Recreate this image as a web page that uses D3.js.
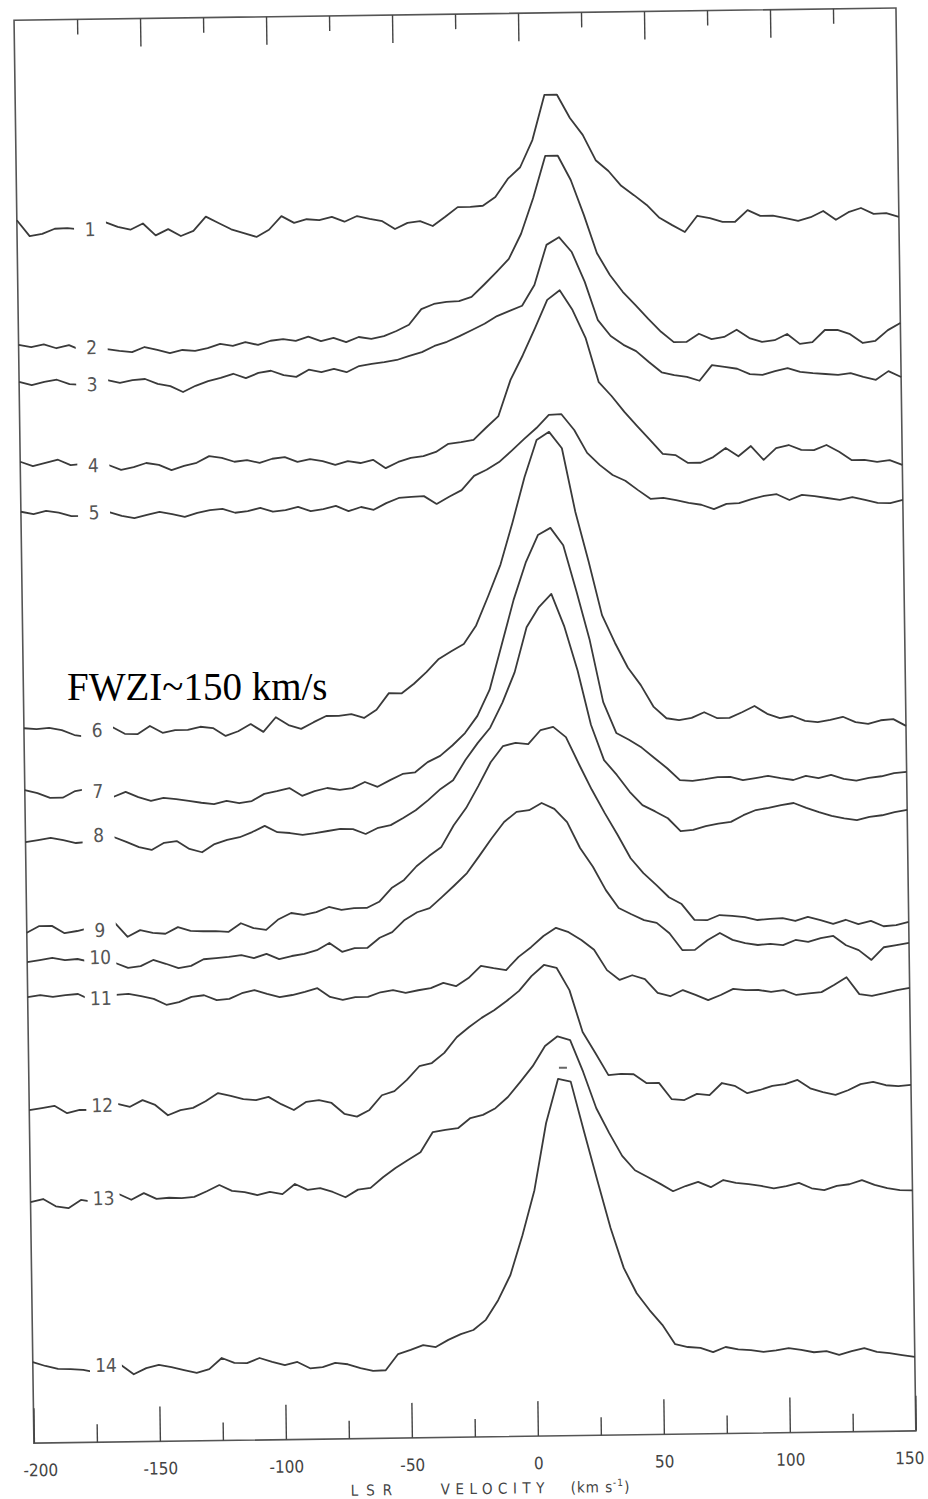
<!DOCTYPE html>
<html><head><meta charset="utf-8">
<script src="https://cdn.jsdelivr.net/npm/d3@7"></script>
<style>body{margin:0;background:#fff} svg{display:block}</style>
</head><body>
<svg id="chart" width="928" height="1499"></svg>
<script>
// LSR velocity grid (km/s)
const velocity = [-200,-195,-190,-185,-180,-175,-170,-165,-160,-155,-150,-145,-140,-135,-130,-125,-120,-115,-110,-105,-100,
  -95,-90,-85,-80,-75,-70,-65,-60,-55,-50,-45,-40,-35,-30,-25,-20,-15,-10,-5,0,
  5,10,15,20,25,30,35,40,45,50,55,60,65,70,75,80,85,90,95,100,105,110,115,120,125,130,135,140,145,150];

// spectra (brightness above each trace's baseline, arbitrary K units)
const s1 = [1.0,-0.6,-0.4,0.1,0.15,0,0.3,0.7,0.2,-0.1,0.5,-0.7,-0.1,-0.8,-0.3,1.1,0.45,-0.2,-0.6,-1.0,-0.3,
  1.05,0.35,0.7,0.6,0.9,0.4,0.95,0.65,0.4,-0.4,0.2,0.35,-0.15,0.75,1.7,1.7,1.8,2.65,4.45,5.6,
  8.3,12.8,12.8,10.45,8.75,6.2,5.1,3.6,2.65,1.65,0.35,-0.4,-1.1,0.5,0.25,-0.15,-0.15,1.0,0.4,0.4,
  0.15,-0.15,0.2,0.8,-0.1,0.65,1.05,0.45,0.5,0.1];
const s2 = [0.35,0.1,0.35,-0.05,0.25,-0.3,-0.3,-0.2,-0.4,-0.55,-0.05,-0.35,-0.7,-0.4,-0.5,-0.25,0.15,-0.05,0.3,0,0.4,
  0.55,0.35,0.75,0.3,0.6,0.15,0.65,0.45,0.7,1.2,1.8,3.35,3.85,4.05,4.1,4.5,5.7,6.95,8.25,10.75,
  14.3,18.5,18.5,16.05,12.55,8.7,6.5,4.8,3.45,2.05,0.75,-0.3,-0.3,0.5,-0.05,0.15,0.85,0,-0.4,-0.25,
  0.35,-0.65,-0.5,0.7,0.7,0.25,-0.65,-0.45,0.6,1.3];
const s3 = [0.35,0,0.3,0.5,0.05,-0.05,0.1,0.4,0.1,0.35,0.45,-0.05,-0.3,-0.9,-0.3,0.15,0.45,0.85,0.4,0.9,1.1,
  0.65,0.45,1.15,0.9,1.2,0.85,1.45,1.65,1.8,2.0,2.4,2.75,3.35,3.75,4.3,4.9,5.5,6.25,6.75,7.25,
  9.3,13.3,14.05,12.55,9.55,5.7,4.1,3.2,2.55,1.45,0.4,0.1,-0.1,-0.5,1.05,0.85,0.65,0.1,0,0.35,
  0.65,0.25,0.1,0,-0.1,0.05,-0.35,-0.65,0.2,-0.4];
const s4 = [0.45,0,0.3,0.6,0.05,0.15,0,0,-0.5,-0.25,0.15,-0.05,-0.6,-0.2,0.1,0.75,0.55,0.15,0.3,0,0.4,
  0.55,0.05,0.3,0.1,-0.3,0.05,-0.15,0.15,-0.7,-0.1,0.3,0.45,0.85,1.65,1.8,2.0,3.2,4.35,7.95,10.4,
  13.1,15.9,16.85,14.85,12.05,7.6,6.2,4.6,3.15,1.75,0.35,0.2,-0.6,-0.6,-0.05,0.85,0,1.0,-0.4,0.75,
  1.05,0.55,0.5,1.0,0.3,-0.55,-0.55,-0.75,-0.6,-1.1];
const s5 = [0.15,-0.1,0.2,0,-0.35,-0.35,-0.2,0,-0.4,-0.65,-0.35,-0.05,-0.3,-0.6,-0.2,0.05,0.15,-0.25,-0.1,0.2,-0.2,
  -0.05,0.25,-0.2,0,0.3,-0.25,0.15,-0.15,0.5,1.0,1.1,1.15,0.35,1.05,1.7,3.1,3.7,4.45,5.55,6.7,
  7.8,9.1,9.15,7.55,5.25,4.0,3.0,2.4,1.45,0.55,0.65,0.4,0.1,-0.1,-0.55,-0.05,0,0.4,0.7,0.85,
  0.25,0.75,0.6,0.4,0.2,0.45,0.15,-0.15,-0.2,0.1];
const s6 = [0.3,0.2,0.3,0.05,-0.45,-0.65,-0.5,0.3,-0.4,-0.45,0.35,-0.35,-0.1,-0.1,0.2,0.05,-0.75,-0.3,0.4,-0.4,1.05,
  0.25,-0.15,0.5,1.1,1.1,1.25,0.85,1.65,3.3,3.25,4.2,5.35,6.65,7.4,8.1,9.95,12.9,16.0,20.2,24.7,
  28.4,29.2,27.55,21.15,16.15,10.8,8.0,5.5,3.75,1.55,0.4,0.2,0.4,0.95,0.35,0.35,0.9,1.5,0.7,0.25,
  0.45,-0.05,-0.2,0,0.3,-0.25,-0.45,-0.1,0,-0.7];
const s7 = [0.2,-0.1,-0.6,-0.6,0.05,0.25,-0.1,-0.6,-0.1,-0.65,-1.05,-0.75,-0.9,-1.1,-1.3,-1.45,-1.15,-1.4,-1.2,-0.5,-0.25,
  0.05,-0.75,-0.3,0,-0.2,-0.05,0.55,0.05,0.7,1.3,1.45,2.45,3.05,4.1,5.3,7.0,9.6,14.05,18.55,22.25,
  25.0,25.7,23.95,19.3,14.4,8.2,5.1,4.4,3.6,2.55,1.5,0.3,0.2,0.35,0.55,0.55,0.2,0.4,0.6,0.35,
  0.15,0.55,0.3,0.6,0.2,0,0.25,0.4,0.7,0.8];
const s8 = [-0.6,-0.4,-0.2,-0.45,-0.75,-0.65,-0.5,-0.2,-0.7,-1.25,-1.55,-0.85,-0.7,-1.5,-1.85,-1.05,-0.65,-0.4,0.1,0.7,0.05,
  -0.05,-0.25,-0.1,0.1,0.3,0.25,-0.25,0.35,0.6,1.3,2.05,3.05,4.15,5.0,7.0,8.7,10.2,12.7,15.7,20.2,
  22.2,23.5,20.2,15.8,10.35,6.8,5.3,3.6,2.25,1.6,0.9,-0.4,-0.3,0.05,0.3,0.45,1.1,1.6,1.8,2.05,
  2.25,1.75,1.3,0.9,0.65,0.45,0.75,0.9,1.2,1.4];
const s9 = [-0.15,0.5,0.5,-0.25,-0.05,0.25,0.4,0.7,-0.7,-0.05,-0.35,-0.45,0.2,-0.2,-0.25,-0.25,-0.35,0.5,0,-0.2,0.85,
  1.45,1.25,1.5,2.0,1.7,1.85,1.85,2.45,3.8,4.6,5.95,6.95,7.85,10.0,11.7,13.9,16.25,17.85,18.15,18.0,
  19.4,19.7,18.65,15.95,13.35,11.0,8.8,6.45,4.95,3.75,2.5,1.8,0.2,0.15,0.65,0.55,0.4,0.1,0.2,0.25,
  -0.05,0.35,0,-0.4,0,-0.45,-0.15,-0.7,-0.6,-0.3];
const s10 = [-0.4,-0.2,0,-0.25,-0.15,-0.45,-0.7,-0.6,-1.1,-0.95,-0.35,-0.75,-1.2,-1.0,-0.35,-0.25,-0.15,0,-0.3,0.1,-0.45,
  -0.15,0.05,0.4,1.1,0.2,0.55,0.55,1.55,2.1,3.3,4.05,4.45,5.55,6.7,7.9,9.6,11.35,12.95,13.95,14.1,
  14.8,14.2,12.85,10.25,8.35,6.0,4.2,3.55,2.95,2.65,1.6,-0.1,-0.1,0.85,1.55,0.85,0.5,0.3,0.4,0.25,
  0.75,0.55,0.9,1.1,0.15,-0.35,-1.35,-0.1,0.1,0.3];
const s11 = [0.2,0.4,0.2,0.35,0.45,-0.15,0,0.3,0.4,0.15,-0.15,-0.75,-0.5,0,0.15,-0.35,-0.25,0.3,0.6,0.2,-0.15,
  0.05,0.35,0.7,-0.2,-0.5,-0.25,-0.25,0.2,0.4,0.1,0.35,0.55,1.05,0.7,1.5,2.7,2.45,2.25,3.55,4.5,
  5.6,6.4,5.95,5.15,4.15,2.1,1.1,1.55,1.15,-0.25,-0.6,0,-0.5,-1.05,-0.55,0.05,-0.1,-0.1,-0.3,-0.15,
  -0.65,-0.5,-0.4,0.3,1.05,-0.65,-0.85,-0.6,-0.3,-0.1];
const s12 = [-0.4,-0.2,0,-0.75,-0.45,-0.45,-0.1,0.1,-0.2,0.45,-0.05,-1.1,-0.6,-0.4,0.25,1.05,0.75,0.4,0.3,0.6,-0.15,
  -0.75,0.05,0.2,-0.1,-1.2,-1.5,-0.85,0.6,1.0,2.1,3.45,3.75,4.75,6.3,7.3,8.2,8.95,9.85,10.85,12.3,
  13.4,13.1,10.85,6.65,4.5,2.3,2.4,2.35,1.45,1.45,-0.2,-0.3,0.3,0.15,1.35,1.05,0.3,0.6,1.0,1.15,
  1.55,0.7,0.3,0,0.45,1.05,1.25,0.9,0.8,0.9];
const s13 = [-0.3,0,-0.75,-0.95,-0.15,-0.35,-0.2,0.4,-0.2,0.45,-0.15,-0.05,-0.1,0,0.55,1.15,0.55,0.4,0.1,0.4,0.15,
  1.15,0.55,0.7,0.3,-0.25,0.5,0.65,1.7,2.6,3.4,4.15,6.15,6.35,6.5,7.5,7.8,8.45,9.55,11.05,12.6,
  14.6,15.55,15.15,11.95,8.3,5.8,3.5,2.05,1.35,0.65,-0.1,0.4,0.8,0.25,0.95,0.65,0.5,0.3,0.05,0.25,
  0.55,0,-0.2,0.2,0.35,0.75,0.25,-0.1,-0.3,-0.35];
const s14 = [0.4,0,-0.3,-0.35,-0.45,-0.7,-0.5,0,-0.95,-0.35,-0.05,-0.3,-0.6,-0.9,-0.55,0.55,0.05,0,0.5,0.1,-0.25,
  0.05,-0.6,-0.5,-0.1,-0.25,-0.65,-0.95,-0.9,0.7,1.1,1.55,1.35,2.05,2.6,3.0,4.0,5.95,8.45,12.4,16.9,
  23.6,28.0,27.7,22.7,17.8,13.0,9.0,6.45,4.75,3.25,1.3,1.0,0.9,0.45,0.95,0.7,0.6,0.4,0.55,0.75,
  0.55,0.3,0.4,0,0.35,0.65,0.25,0.1,-0.1,-0.3];

const spectrumLabels = ["1","2","3","4","5","6","7","8","9","10","11","12","13","14"];
const offsets = [121.3,109.5,105.8,97.7,93.0,71.2,65.1,60.7,51.2,48.5,44.4,33.7,24.4,7.7];
const majorTicks = [-200,-150,-100,-50,0,50,100,150];
const majorTickLabels = ["-200","-150","-100","-50","0","50","100","150"];
const minorTicks = [-175,-125,-75,-25,25,75,125];
const annotation = "FWZI~150 km/s";
// small pen mark above the peak of trace 13/14 (velocity, level)
const penMark = [12, 36.8];

const series = [s1,s2,s3,s4,s5,s6,s7,s8,s9,s10,s11,s12,s13,s14];
const LABEL_V = -171;

const frame = {left:24, right:906, top:14, bottom:1437};
const x = d3.scaleLinear().domain([-200,150]).range([frame.left, frame.right]);
const y = d3.scaleLinear().domain([0,142.3]).range([frame.bottom, frame.top]);

const svg = d3.select("#chart");
const g = svg.append("g").attr("transform","rotate(-0.8,470,730)");

const ink = "#3a3a3a";
const tfont = "'DejaVu Sans Condensed','DejaVu Sans',sans-serif";

// frame
g.append("rect")
  .attr("x", frame.left).attr("y", frame.top)
  .attr("width", frame.right-frame.left).attr("height", frame.bottom-frame.top)
  .attr("fill","none").attr("stroke","#555").attr("stroke-width",1.6);

// axes
function styleAxis(sel){
  sel.select(".domain").remove();
  sel.selectAll(".tick line").attr("stroke","#444").attr("stroke-width",1.4);
  sel.selectAll("text").attr("fill","#444")
    .style("font-family", tfont)
    .style("font-size","17px");
}
const fmt = v => majorTickLabels[majorTicks.indexOf(v)];
const bottomAxis = g.append("g").attr("transform",`translate(0,${frame.bottom})`)
  .call(d3.axisBottom(x).tickValues(majorTicks).tickFormat(fmt).tickSizeInner(-35).tickSizeOuter(0).tickPadding(21))
  .call(styleAxis);
bottomAxis.selectAll(".tick text").attr("dx", d => d === 150 ? -7 : (d === -200 ? 6 : 0));
g.append("g").attr("transform",`translate(0,${frame.bottom})`)
  .call(d3.axisBottom(x).tickValues(minorTicks).tickFormat("").tickSizeInner(-18).tickSizeOuter(0))
  .call(styleAxis);
g.append("g").attr("transform",`translate(0,${frame.top})`)
  .call(d3.axisTop(x).tickValues(majorTicks.slice(1,-1)).tickFormat("").tickSizeInner(-28).tickSizeOuter(0))
  .call(styleAxis);
g.append("g").attr("transform",`translate(0,${frame.top})`)
  .call(d3.axisTop(x).tickValues(minorTicks).tickFormat("").tickSizeInner(-15).tickSizeOuter(0))
  .call(styleAxis);

// axis title
const titleY = 1494;
g.append("text").attr("x", 340).attr("y", titleY).attr("fill","#444")
  .style("font-family", tfont).style("font-size","15px").style("letter-spacing","8px").text("LSR");
g.append("text").attr("x", 430).attr("y", titleY).attr("fill","#444")
  .style("font-family", tfont).style("font-size","15px").style("letter-spacing","5.5px").text("VELOCITY");
const unit = g.append("text").attr("x", 560).attr("y", titleY).attr("fill","#444")
  .style("font-family", tfont).style("font-size","15px").style("letter-spacing","1px");
unit.append("tspan").text("(km s");
unit.append("tspan").attr("dy", -6).style("font-size","10px").text("-1");
unit.append("tspan").attr("dy", 6).text(")");

// spectra
const line = d3.line().x(d => x(d[0])).y(d => y(d[1]));
series.forEach((s, i) => {
  const pts = velocity.map((v, j) => [v, offsets[i] + s[j]]);
  g.append("path").datum(pts)
    .attr("d", line).attr("fill","none")
    .attr("stroke", ink).attr("stroke-width", 1.8)
    .attr("stroke-linejoin","round");
});

// pen mark
g.append("line")
  .attr("x1", x(penMark[0]) - 4).attr("x2", x(penMark[0]) + 4)
  .attr("y1", y(penMark[1])).attr("y2", y(penMark[1]))
  .attr("stroke", "#666").attr("stroke-width", 2);

// labels with gaps in the trace
series.forEach((s, i) => {
  const lx = x(LABEL_V), ly = y(offsets[i]);
  g.append("rect").attr("x", lx-16).attr("y", ly-11).attr("width", 32).attr("height", 22).attr("fill","#fff");
  g.append("text").attr("x", lx).attr("y", ly).attr("dy","0.36em")
    .attr("text-anchor","middle").attr("fill","#555")
    .style("font-family", tfont).style("font-size","19px")
    .text(spectrumLabels[i]);
});

// annotation (added on top, not tilted)
svg.append("text").attr("x", 67).attr("y", 700)
  .attr("fill","#000")
  .style("font-family","'Liberation Serif','Times New Roman',serif")
  .style("font-size","39px")
  .text(annotation);
</script>
</body></html>
